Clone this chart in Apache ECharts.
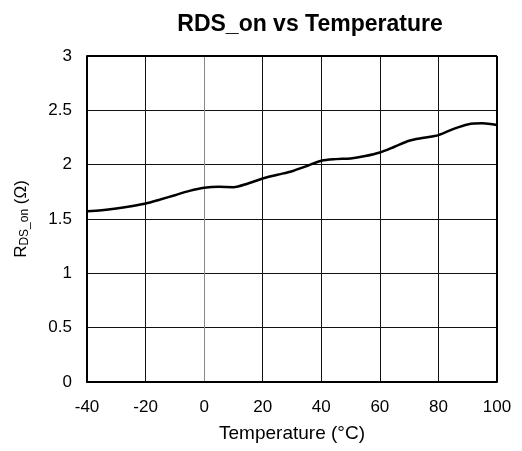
<!DOCTYPE html>
<html><head><meta charset="utf-8">
<script src="https://cdn.jsdelivr.net/npm/echarts@6/dist/echarts.min.js"></script>
<style>html,body{margin:0;padding:0;background:#fff}#c{width:522px;height:451px}</style>
</head><body><div id="c"></div>
<script>
const temps = [-40,-35,-30,-25,-20,-15,-10,-5,0,5,10,15,20,25,30,35,40,45,50,55,60,65,70,75,80,85,90,95,100];
const rdsOn = [1.572,1.581,1.597,1.618,1.643,1.68,1.719,1.759,1.787,1.796,1.793,1.827,1.873,1.907,1.94,1.987,2.036,2.051,2.057,2.079,2.112,2.165,2.22,2.247,2.272,2.327,2.37,2.38,2.365];
const xTicks = {min:-40, max:100, interval:20};
const yTicks = {min:0, max:3, interval:0.5};
const F = 'Liberation Sans, Arial, sans-serif';
const chart = echarts.init(document.getElementById('c'));
chart.setOption({
  animation:false,
  backgroundColor:'#fff',
  title:{text:'RDS_on vs Temperature', left:305, textAlign:'center', top:8,
    textStyle:{fontFamily:F, fontSize:23, fontWeight:'bold', color:'#000'}},
  grid:{left:87, right:25, top:56, bottom:69, show:false},
  xAxis:{type:'value', min:xTicks.min, max:xTicks.max, interval:xTicks.interval,
    name:'Temperature (°C)', nameLocation:'middle', nameGap:42,
    nameTextStyle:{fontFamily:F, fontSize:19, color:'#000'},
    axisLine:{show:true, onZero:false, lineStyle:{color:'#000', width:2}},
    axisTick:{show:false},
    axisLabel:{fontFamily:F, fontSize:17, color:'#000', margin:17},
    splitLine:{show:true, lineStyle:{color:['#000','#111','#888','#111','#111','#111','#111','#000'], width:1}}
  },
  yAxis:{type:'value', min:yTicks.min, max:yTicks.max, interval:yTicks.interval,
    name:'{r|R}{s|DS_on}{r| (Ω)}', nameLocation:'middle', nameGap:56,
    nameTextStyle:{rich:{r:{fontFamily:F, fontSize:17, color:'#000'}, s:{fontFamily:F, fontSize:12, color:'#000', verticalAlign:'bottom', padding:[7,0,0,0]}}},
    axisLine:{show:true, onZero:false, lineStyle:{color:'#000', width:2}},
    axisTick:{show:false},
    axisLabel:{fontFamily:F, fontSize:17, color:'#000', margin:15},
    splitLine:{show:true, lineStyle:{color:'#111', width:1}}
  },
  series:[
    {type:'line', data:temps.map((t,i)=>[t,rdsOn[i]]), smooth:0.3, showSymbol:false,
     lineStyle:{color:'#000', width:2.5}},
    {type:'line', data:[], markLine:{silent:true, symbol:'none', label:{show:false},
      lineStyle:{color:'#000', width:2, type:'solid'},
      data:[{xAxis:100},{yAxis:3}]}}
  ]
});
</script></body></html>
